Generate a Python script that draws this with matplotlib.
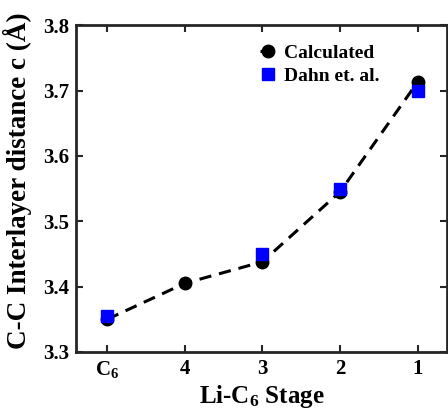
import matplotlib
matplotlib.use("Agg")
import matplotlib.pyplot as plt

stages = [1, 2, 3, 4, 5]
stage_labels = [r"C$_{\mathbf{6}}$", "4", "3", "2", "1"]
calculated = [3.350, 3.405, 3.438, 3.545, 3.713]
dahn_x = [1, 3, 4, 5]
dahn = [3.355, 3.450, 3.550, 3.700]

plt.rcParams['font.family'] = ['Liberation Serif']
plt.rcParams['font.weight'] = 'bold'
plt.rcParams['mathtext.fontset'] = 'custom'
plt.rcParams['mathtext.rm'] = 'Liberation Serif:bold'
plt.rcParams['mathtext.bf'] = 'Liberation Serif:bold'
plt.rcParams['mathtext.it'] = 'Liberation Serif:bold'

fig = plt.figure(figsize=(4.48, 4.2), dpi=100)
ax = fig.add_axes([0.17, 0.162, 0.828, 0.778])

ax.plot(stages, calculated, '--', color='black', lw=2.2, dashes=(4, 2.6),
        marker='o', ms=9, label='Calculated')
ax.plot(dahn_x, dahn, 's', color='blue', ms=8, ls='none', label='Dahn et. al.')

ax.set_xlim(0.6, 5.38)
ax.set_ylim(3.3, 3.8)
ax.set_xticks(stages)
ax.set_xticklabels(stage_labels)
ax.set_yticks([3.3, 3.4, 3.5, 3.6, 3.7, 3.8])
ax.set_yticklabels(["3.3", "3.4", "3.5", "3.6", "3.7", "3.8"])
ax.tick_params(direction='in', top=True, right=True, labelsize=15, width=1.5,
               length=5, color='#262626', pad=5)
for s in ax.spines.values():
    s.set_linewidth(2)
    s.set_color('#262626')

ax.set_xlabel(r"Li-C$_{\mathbf{6}}$ Stage", fontsize=18, fontweight='bold', labelpad=2)
ax.set_ylabel("C-C Interlayer distance c (Å)", fontsize=19.5, fontweight='bold')
ax.yaxis.set_label_coords(-0.12, 0.525)

leg = ax.legend(loc='upper left', bbox_to_anchor=(0.455, 0.988), frameon=False,
                fontsize=14, handlelength=0.8, handletextpad=0.4,
                labelspacing=0.25, borderpad=0.3)
for t in leg.get_texts():
    t.set_fontweight('bold')

fig.savefig("out.png", dpi=100)
